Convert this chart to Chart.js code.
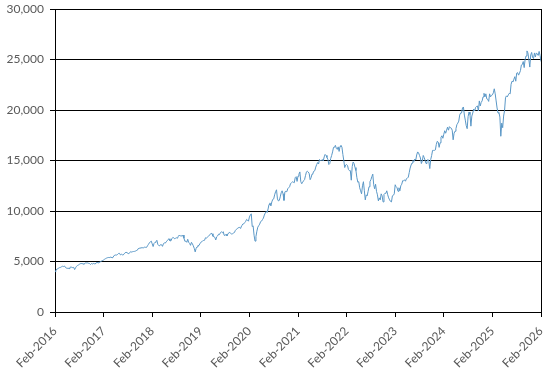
<!DOCTYPE html>
<html>
<head>
<meta charset="utf-8">
<script src="https://cdn.jsdelivr.net/npm/chart.js@4/dist/chart.umd.min.js"></script>
<style>
  html, body { margin: 0; padding: 0; background: #fff; }
  #wrap { width: 550px; height: 372px; }
</style>
</head>
<body>
<div id="wrap"><canvas id="myChart"></canvas></div>
<script>
// weekly closes, Feb of one year to Jan of the next
const y2016 = [4000, 4150, 4250, 4280, 4350, 4400, 4420, 4480, 4530, 4500, 4560, 4450, 4350,
  4320, 4340, 4300, 4420, 4450, 4430, 4390, 4420, 4200, 4380, 4520, 4600, 4650,
  4720, 4780, 4800, 4790, 4770, 4730, 4820, 4870, 4850, 4860, 4820, 4790, 4700,
  4800, 4750, 4810, 4780, 4750, 4870, 4900, 4880, 4860, 4950, 5000, 5050, 5100];
const y2017 = [5150, 5220, 5280, 5330, 5370, 5400, 5380, 5430, 5420, 5380, 5400, 5570,
  5620, 5650, 5640, 5700, 5800, 5810, 5650, 5720, 5660, 5650, 5760, 5870, 5900,
  5890, 5800, 5780, 5860, 5990, 5930, 5970, 5990, 6000, 6030, 6080, 6110, 6270,
  6300, 6340, 6330, 6380, 6350, 6360, 6430, 6400, 6400, 6560, 6700, 6850, 6950, 7020];
const y2018 = [6750, 6480, 6800, 6900, 6950, 7100, 6700, 6580, 6550, 6680, 6660, 6500,
  6750, 6850, 6820, 6950, 7050, 7180, 7250, 7050, 7040, 7250, 7380, 7350, 7250,
  7300, 7350, 7300, 7500, 7620, 7520, 7570, 7480, 7620, 7300, 7000, 7020, 6900,
  7200, 6900, 6800, 6600, 6900, 6750, 6550, 6300, 5950, 6300, 6450, 6600, 6580, 6750];
const y2019 = [6900, 6950, 7050, 7080, 7100, 7350, 7320, 7380, 7500, 7600, 7660, 7800,
  7750, 7500, 7450, 7400, 7130, 7450, 7530, 7700, 7670, 7860, 7940, 7850, 7950,
  7600, 7570, 7700, 7540, 7720, 7850, 7870, 7790, 7720, 7750, 7820, 7870, 8080,
  8180, 8260, 8320, 8400, 8300, 8400, 8570, 8710, 8730, 8850, 8970, 9170, 9090, 8990];
const y2020 = [9400, 9600, 9720, 8460, 8530, 7600, 7020, 7480, 8000, 8400, 8550, 8700,
  8950, 9000, 9150, 9300, 9600, 9800, 9950, 9850, 10200, 10650, 10800, 10500, 10900,
  11150, 11200, 11600, 11900, 12100, 11200, 11000, 11050, 11400, 11800, 12000, 11700, 11050,
  11900, 11950, 11900, 12200, 12300, 12400, 12700, 12800, 12890, 12850, 12800, 13300, 13400, 12930];
const y2021 = [13450, 13650, 13870, 12900, 12700, 12850, 13000, 13100, 13500, 13850, 13950, 13860,
  13700, 13100, 13300, 13650, 13750, 13950, 14000, 14350, 14600, 14800, 14650, 15100, 15000,
  15000, 15100, 14950, 15350, 15600, 15500, 15300, 15100, 14600, 14700, 15200, 15500, 15850,
  16300, 16300, 16500, 16200, 16100, 16350, 15900, 16400, 16500, 16320, 15600, 15000, 14300, 14550];
const y2022 = [14600, 14500, 14100, 14000, 14000, 13050, 14400, 14850, 14700, 14300, 14000, 13300, 12850,
  12900, 12300, 12000, 11700, 12500, 12900, 12000, 11100, 11600, 11500, 11950, 12400, 12900,
  13100, 13400, 13650, 12600, 12200, 12650, 11950, 11600, 11000, 11300, 11100, 11700, 11500,
  10900, 11650, 11750, 11750, 12000, 11600, 11300, 11100, 10950, 10900, 11500, 11550, 11700];
const y2023 = [12600, 12400, 12300, 11950, 12300, 12000, 12500, 12650, 13000, 13000, 13080, 12950, 13200,
  13250, 13350, 13800, 14250, 14550, 14750, 15000, 14900, 15150, 15050, 15550, 15850, 15750,
  15500, 15250, 14700, 14950, 15500, 15300, 15000, 14700, 14900, 15100, 14900, 14200,
  15100, 15500, 16000, 16000, 16000, 16050, 16600, 16900, 16830, 16300, 16750, 17300, 17450, 17200];
const y2024 = [17600, 17950, 17700, 18000, 18300, 18000, 18350, 18250, 18200, 18000, 17050, 17700,
  17900, 18150, 18550, 18700, 18900, 19500, 19700, 19700, 20200, 20300, 19500, 19000,
  18450, 18150, 19350, 19800, 19550, 18400, 19400, 19700, 20100, 19900, 20250, 20350, 20400, 19900,
  20900, 20400, 20750, 20900, 21300, 21650, 21300, 21600, 21100, 21050, 20850, 21600, 21300, 21450];
const y2025 = [21500, 21700, 22100, 21600, 20900, 20200, 19700, 19750, 19300, 17400, 18700, 18250, 19400,
  19950, 21200, 21400, 21300, 21500, 21650, 21600, 22550, 22850, 22800, 23050, 23300,
  22850, 23650, 23700, 23450, 23650, 23900, 24450, 24500, 24800, 24200, 25000, 25350, 25850,
  25650, 25000, 24250, 25450, 25700, 25200, 25100, 25650, 25250, 25650, 25550, 25400, 25800, 25400, 24800];

const firstYear = 2016;
const yearTicks = [0, 1, 2, 3, 4, 5, 6, 7, 8, 9, 10];

const closes = [].concat(y2016, y2017, y2018, y2019, y2020, y2021, y2022, y2023, y2024, y2025);
const points = closes.map((v, i) => ({ x: i * 10 / (closes.length - 1), y: v }));

const font = { family: 'Lato, "Open Sans", sans-serif', size: 12 };

const ctx = document.getElementById('myChart');
const myChart = new Chart(ctx, {
    type: 'line',
    data: {
        datasets: [{
            data: points,
            borderColor: '#5A97C6',
            borderWidth: 1,
            pointRadius: 0,
            tension: 0
        }]
    },
    options: {
        responsive: true,
        maintainAspectRatio: false,
        animation: false,
        layout: { padding: { top: 9, right: 9, left: 0, bottom: 0 } },
        plugins: {
            legend: { display: false },
            tooltip: { enabled: false }
        },
        scales: {
            x: {
                type: 'linear',
                min: 0,
                max: 10,
                afterBuildTicks: (scale) => { scale.ticks = yearTicks.map(v => ({ value: v })); },
                afterFit: (scale) => {
                    scale.height = 60;
                    scale.paddingLeft = 0;
                    scale.paddingRight = 0;
                },
                grid: {
                    drawOnChartArea: true,
                    color: (c) => (c.index === 10 ? '#000' : 'rgba(0,0,0,0)'),
                    tickColor: '#000',
                    tickLength: 5,
                    lineWidth: 1
                },
                border: { display: true, color: '#000', width: 1 },
                ticks: {
                    autoSkip: false,
                    maxRotation: 45,
                    minRotation: 45,
                    color: '#595959',
                    font: font,
                    padding: 7,
                    callback: (v) => 'Feb-' + (firstYear + v)
                }
            },
            y: {
                min: 0,
                max: 30000,
                afterFit: (scale) => {
                    scale.width = 55;
                    scale.paddingTop = 0;
                    scale.paddingBottom = 0;
                },
                grid: {
                    color: '#000',
                    tickColor: '#000',
                    tickLength: 5,
                    lineWidth: 1
                },
                border: { display: true, color: '#000', width: 1 },
                ticks: {
                    stepSize: 5000,
                    color: '#595959',
                    font: font,
                    padding: 6,
                    callback: (v) => v.toLocaleString('en-US')
                }
            }
        }
    }
});
</script>
</body>
</html>
